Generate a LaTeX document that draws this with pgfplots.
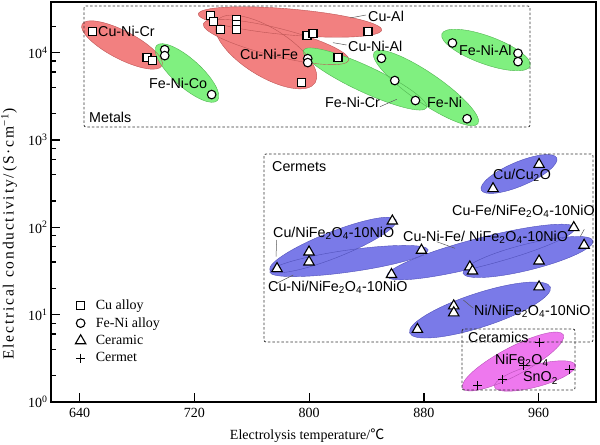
\documentclass[border=0pt]{standalone}
\usepackage{fontspec}
\setmainfont{Liberation Serif}
\newfontfamily\arial{Liberation Sans}
\newfontfamily\cjk{Noto Sans CJK SC}
\newfontfamily\widetimes[LetterSpace=12]{Liberation Serif}
\usepackage{pgfplots}
\pgfplotsset{compat=1.18}

\definecolor{redf}{RGB}{242,128,128}
\definecolor{redd}{RGB}{190,85,85}
\definecolor{grnf}{RGB}{128,240,128}
\definecolor{grnd}{RGB}{80,180,80}
\definecolor{bluf}{RGB}{122,122,232}
\definecolor{blud}{RGB}{80,80,185}
\definecolor{magf}{RGB}{238,120,238}
\definecolor{magd}{RGB}{185,80,185}
\definecolor{ldr}{RGB}{90,90,90}

\newcommand{\lf}{\arial\fontsize{14.3bp}{17bp}\selectfont}
\newcommand{\tf}{\fontsize{14bp}{16.8bp}\selectfont}

\tikzset{
  rF/.style={fill=redf}, rD/.style={draw=redd, line width=0.4bp},
  gF/.style={fill=grnf}, gD/.style={draw=grnd, line width=0.4bp},
  bF/.style={fill=bluf}, bD/.style={draw=blud, line width=0.4bp},
  mF/.style={fill=magf}, mD/.style={draw=magd, line width=0.4bp},
  lab/.style={font=\lf, inner sep=0pt, anchor=west},
  dbox/.style={draw=black!80, line width=0.8bp, dash pattern=on 2.5bp off 2bp, rounded corners=2bp},
}

% pixel-based helpers (pixel x,y of the 600x444 reference)
\newcommand{\ellip}[6]{\edef\tmp{\noexpand\path[#1] (rel axis cs:\fpeval{(#2-51)/545},\fpeval{(402-#3)/400}) ellipse [x radius=#4bp, y radius=#5bp, rotate=#6];}\tmp}
\newcommand{\lab}[3]{\edef\tmp{\noexpand\node[lab] at (rel axis cs:\fpeval{(#1-51)/545},\fpeval{(402-#2)/400}) {\unexpanded{#3}};}\tmp}
\newcommand{\ldr}[4]{\edef\tmp{\noexpand\draw[ldr, line width=0.5bp] (rel axis cs:\fpeval{(#1-51)/545},\fpeval{(402-#2)/400}) -- (rel axis cs:\fpeval{(#3-51)/545},\fpeval{(402-#4)/400});}\tmp}
\newcommand{\bx}[4]{\edef\tmp{\noexpand\path[dbox] (rel axis cs:\fpeval{(#1-51)/545},\fpeval{(402-#2)/400}) rectangle (rel axis cs:\fpeval{(#3-51)/545},\fpeval{(402-#4)/400});}\tmp}

\newcommand{\ELL}[1]{%
  \ellip{r#1}{122}{45}{45}{14}{-27.5}%
  \ellip{r#1}{290}{22}{92}{13}{-5}%
  \ellip{r#1}{276}{42}{75}{14}{-14}%
  \ellip{r#1}{266}{52}{58}{24}{-32}%
  \ellip{g#1}{187}{73}{41}{14}{-42}%
  \ellip{g#1}{365}{79}{68}{13}{-25}%
  \ellip{g#1}{426}{88}{63}{15}{-34.5}%
  \ellip{g#1}{486}{50}{47}{14}{-20}%
  \ellip{b#1}{519}{174}{41}{12}{23}%
  \ellip{b#1}{333}{245}{68}{13}{21.6}%
  \ellip{b#1}{349}{261}{80}{11}{8}%
  \ellip{b#1}{481}{252}{97}{14}{14.5}%
  \ellip{b#1}{528}{257}{67}{13}{14}%
  \ellip{b#1}{480}{310}{74}{17}{18}%
  \ellip{m#1}{513}{361.5}{57}{14}{28}%
  \ellip{m#1}{535}{376}{42}{11}{15}%
}

\begin{document}
\begin{tikzpicture}
\begin{axis}[
  scale only axis, width=545bp, height=400bp,
  xmin=620, xmax=1000,
  ymode=log, ymin=1, ymax=3.8e4,
  xtick={640,720,800,880,960},
  xticklabels={640,720,800,880,960},
  ytick={1,10,100,1000,10000},
  yticklabels={10\textsuperscript{0},10\textsuperscript{1},10\textsuperscript{2},10\textsuperscript{3},10\textsuperscript{4}},
  minor ytick={2,4,6,8,20,40,60,80,200,400,600,800,2000,4000,6000,8000,20000},
  minor xtick={},
  tick align=inside, tick pos=left,
  major tick length=9bp, minor tick length=4.5bp,
  every tick/.style={black, line width=1.2bp},
  axis line style={line width=1.5bp},
  ticklabel style={font=\tf},
  xticklabel style={yshift=-3bp},
  xlabel={Electrolysis temperature/{\cjk ℃}},
  ylabel={\widetimes Electrical conductivity/(S·cm\textsuperscript{−1})},
  every axis x label/.style={at={(rel axis cs:0.47,0)}, yshift=-34bp, anchor=center, font=\tf},
  every axis y label/.style={at={(rel axis cs:0,0.42)}, xshift=-42bp, rotate=90, anchor=center, font=\fontsize{15.5bp}{18bp}\selectfont},
  legend style={draw=none, fill=none, at={(rel axis cs:0.039,0.266)}, anchor=north west, font=\tf, row sep=2.6bp,
    /tikz/every odd column/.append style={column sep=8bp}},
  legend cell align=left,
]
\coordinate (BL) at (rel axis cs:0,0);
\coordinate (TR) at (rel axis cs:1,1);
\ELL{F}
\ELL{D}
\bx{84}{6}{530}{127}
\bx{264}{154}{593}{342}
\bx{462}{329}{575}{390}

\addplot[only marks, mark=square*, mark size=4bp, mark options={fill=white, draw=black, line width=1.1bp}] coordinates {
(649.1,17400) (686.9,8700) (690.7,8100) (731.1,26500) (733.4,22800) (738.1,18300)
(749.5,23800) (749.5,20900) (749.5,18300) (798.5,15600) (802.7,16400) (841.0,17500)
(820.1,8700) (794.6,4500)};
\addlegendentry{Cu alloy}
\addplot[only marks, mark=*, mark size=4.3bp, mark options={fill=white, draw=black, line width=1.1bp}] coordinates {
(699.3,10800) (699.3,9240) (732.0,3310) (799.0,8540) (799.0,7690) (850.4,8610)
(859.7,4790) (874.1,2830) (910.1,1750) (899.9,12900) (945.6,9820) (945.6,7890)};
\addlegendentry{Fe-Ni alloy}
\addplot[only marks, mark=triangle*, mark size=6bp, mark options={fill=white, draw=black, line width=1.1bp}] coordinates {
(960.3,525) (928.2,277) (858.0,118) (799.9,52.2) (799.9,40.1) (777.6,33.7)
(878.3,54.6) (857.4,28.8) (912.0,35.2) (913.9,31.6) (960.3,41.2) (984.5,99.3)
(991.7,62.3) (960.3,20.8) (900.8,12.6) (900.8,10.5) (875.5,6.78)};
\addlegendentry{Ceramic}
\addplot[only marks, mark=+, mark size=4.5bp, mark options={draw=black, line width=1bp}] coordinates {
(960.3,4.81) (949.6,2.65) (981.2,2.38) (934.7,1.82) (917.5,1.54)};
\addlegendentry{Cermet}

\ldr{350}{18}{366}{15}
\ldr{333}{42.7}{346.7}{45}
\ldr{380}{106.7}{396.7}{99.3}
\ldr{276.7}{240}{276}{256.7}
\ldr{436.7}{241.7}{455}{248.3}
\ldr{276.7}{283.3}{293.3}{275}
\ldr{463.3}{300}{473.3}{308.3}
\ldr{580}{237}{584.3}{229.3}

\lab{98}{31}{Cu-Ni-Cr}
\lab{149}{83}{Fe-Ni-Co}
\lab{240}{54}{Cu-Ni-Fe}
\lab{89}{117}{Metals}
\lab{368}{16}{Cu-Al}
\lab{348}{46}{Cu-Ni-Al}
\lab{325}{102}{Fe-Ni-Cr}
\lab{427}{102}{Fe-Ni}
\lab{459}{50}{Fe-Ni-Al}
\lab{272}{167}{Cermets}
\lab{493}{175}{Cu/Cu\textsubscript{2}O}
\lab{452}{211}{Cu-Fe/NiFe\textsubscript{2}O\textsubscript{4}-10NiO}
\lab{273}{233}{Cu/NiFe\textsubscript{2}O\textsubscript{4}-10NiO}
\lab{403}{237}{Cu-Ni-Fe/ NiFe\textsubscript{2}O\textsubscript{4}-10NiO}
\lab{268}{287}{Cu-Ni/NiFe\textsubscript{2}O\textsubscript{4}-10NiO}
\lab{474}{311}{Ni/NiFe\textsubscript{2}O\textsubscript{4}-10NiO}
\lab{468}{337}{Ceramics}
\lab{495}{360}{NiFe\textsubscript{2}O\textsubscript{4}}
\lab{523}{378}{SnO\textsubscript{2}}
\end{axis}
\pgfresetboundingbox
\path (BL) ++(-51bp,-42bp) rectangle ([xshift=4bp,yshift=2bp]TR);
\end{tikzpicture}
\end{document}
